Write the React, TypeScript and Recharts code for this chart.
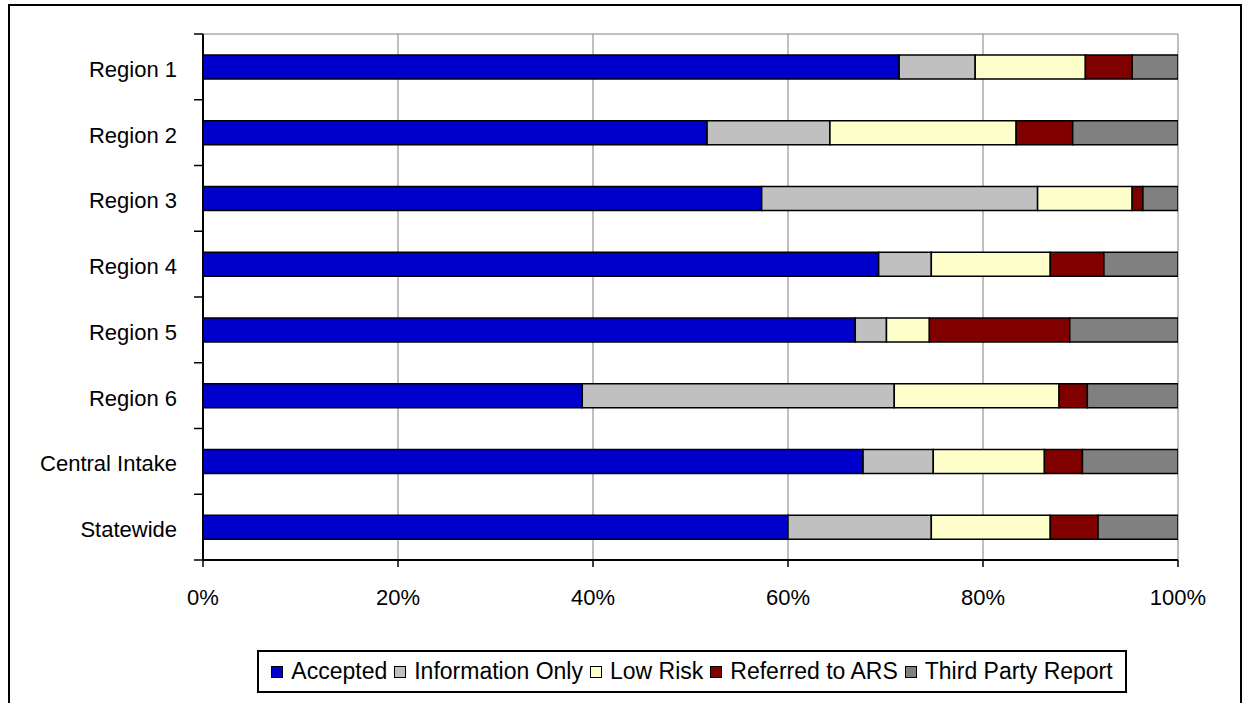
import React from "react";
import {
  BarChart,
  Bar,
  XAxis,
  YAxis,
  CartesianGrid,
  Legend,
} from "recharts";

const categories = [
  "Region 1",
  "Region 2",
  "Region 3",
  "Region 4",
  "Region 5",
  "Region 6",
  "Central Intake",
  "Statewide",
];

const accepted = [71.4, 51.7, 57.3, 69.3, 66.9, 38.9, 67.7, 60.0];
const informationOnly = [7.8, 12.6, 28.3, 5.4, 3.2, 32.0, 7.2, 14.7];
const lowRisk = [11.3, 19.1, 9.7, 12.2, 4.4, 16.9, 11.4, 12.2];
const referredToArs = [4.8, 5.8, 1.1, 5.5, 14.4, 2.9, 3.9, 4.9];
const thirdPartyReport = [4.7, 10.8, 3.6, 7.6, 11.1, 9.3, 9.8, 8.2];

const xTicks = [0, 20, 40, 60, 80, 100];

const SERIES = [
  { key: "accepted", name: "Accepted", color: "#0000CC", values: accepted },
  { key: "info", name: "Information Only", color: "#C0C0C0", values: informationOnly },
  { key: "low", name: "Low Risk", color: "#FFFFCC", values: lowRisk },
  { key: "ars", name: "Referred to ARS", color: "#800000", values: referredToArs },
  { key: "third", name: "Third Party Report", color: "#808080", values: thirdPartyReport },
];

const chartData = categories.map((name, i) => {
  const row: Record<string, string | number> = { name };
  SERIES.forEach((s) => {
    row[s.key] = s.values[i];
  });
  return row;
});

const FONT = '"Liberation Sans", Arial, Helvetica, sans-serif';

const Y_TICK_SIZE = 6;
const Y_TICK_MARGIN = 20;
const EDGE_TICK = 9;

// category label plus the small tick marks that sit on the band edges
function CategoryTick(props: any) {
  const { x, y, payload, index, visibleTicksCount } = props;
  const axisX = x + Y_TICK_SIZE + Y_TICK_MARGIN;
  const half = payload && payload.offset ? payload.offset : 0;
  const isLast = index === visibleTicksCount - 1;
  return (
    <g>
      <line
        x1={axisX - EDGE_TICK}
        x2={axisX}
        y1={y - half}
        y2={y - half}
        stroke="#000"
        strokeWidth={1.5}
      />
      {isLast && (
        <line
          x1={axisX - EDGE_TICK}
          x2={axisX}
          y1={y + half}
          y2={y + half}
          stroke="#000"
          strokeWidth={1.5}
        />
      )}
      <text
        x={x}
        y={y}
        dy={10}
        textAnchor="end"
        fontSize={22}
        fontFamily={FONT}
        fill="#000"
      >
        {payload.value}
      </text>
    </g>
  );
}

function LegendBox(props: any) {
  const payload = props.payload || [];
  return (
    <div
      style={{
        boxSizing: "border-box",
        width: "100%",
        height: "100%",
        border: "2px solid #000",
        background: "#fff",
        display: "flex",
        alignItems: "center",
        justifyContent: "center",
        fontFamily: FONT,
        fontSize: 23,
        color: "#000",
        whiteSpace: "nowrap",
      }}
    >
      {payload.map((entry: any, i: number) => (
        <span
          key={entry.value}
          style={{
            display: "inline-flex",
            alignItems: "center",
            marginLeft: i === 0 ? 0 : 7,
          }}
        >
          <span
            style={{
              display: "inline-block",
              boxSizing: "border-box",
              width: 12,
              height: 12,
              background: entry.color,
              border: "1px solid #000",
              marginRight: 8,
            }}
          />
          {entry.value}
        </span>
      ))}
    </div>
  );
}

export default function App() {
  return (
    <div
      style={{
        position: "fixed",
        left: 8,
        top: 4,
        width: 1230,
        height: 720,
        borderTop: "2px solid #000",
        borderLeft: "2px solid #000",
        borderRight: "2px solid #000",
        background: "#fff",
        fontFamily: FONT,
      }}
    >
      <BarChart
        width={1230}
        height={685}
        data={chartData}
        layout="vertical"
        barSize={24}
        margin={{ top: 28, right: 62, bottom: 101, left: 10 }}
      >
        <CartesianGrid
          stroke="#808080"
          strokeWidth={1}
          horizontalCoordinatesGenerator={(p: any) => [p.offset.top]}
        />
        <XAxis
          type="number"
          domain={[0, 100]}
          ticks={xTicks}
          allowDataOverflow
          tickFormatter={(v: number) => `${v}%`}
          axisLine={{ stroke: "#000", strokeWidth: 2 }}
          tickLine={{ stroke: "#000", strokeWidth: 1.5 }}
          tickSize={7}
          tickMargin={22}
          height={30}
          tick={{ fontSize: 22, fill: "#000", fontFamily: FONT }}
        />
        <YAxis
          type="category"
          dataKey="name"
          width={183}
          axisLine={{ stroke: "#000", strokeWidth: 2 }}
          tickLine={false}
          tickSize={Y_TICK_SIZE}
          tickMargin={Y_TICK_MARGIN}
          tick={<CategoryTick />}
        />
        <Legend
          layout="horizontal"
          verticalAlign="middle"
          align="center"
          content={<LegendBox />}
          wrapperStyle={{ left: 247, top: 644, width: 870, height: 43 }}
        />
        {SERIES.map((s) => (
          <Bar
            key={s.key}
            dataKey={s.key}
            name={s.name}
            stackId="a"
            fill={s.color}
            stroke="#000"
            strokeWidth={1.5}
            isAnimationActive={false}
          />
        ))}
      </BarChart>
    </div>
  );
}
